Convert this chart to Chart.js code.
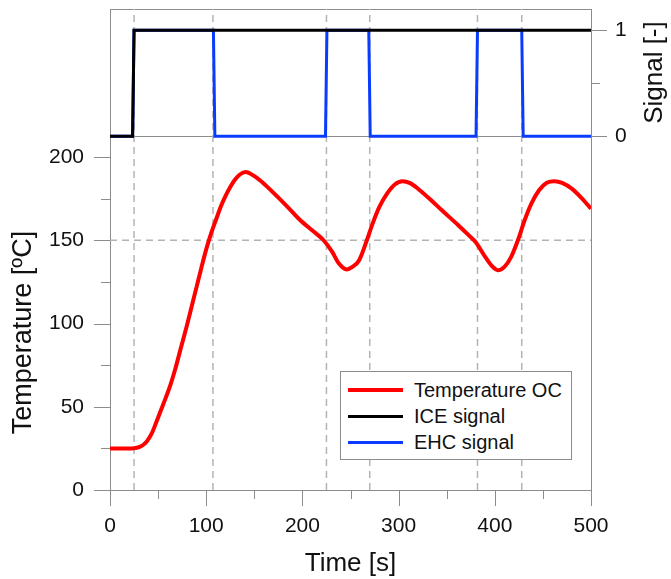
<!DOCTYPE html>
<html lang="en">
<head>
<meta charset="UTF-8">
<title>Temperature OC with ICE / EHC signals</title>
<style>
    body {
        margin: 0;
        background: #fff;
        font-family: 'Liberation Sans', Arial, sans-serif;
    }
    #wrap {
        position: relative;
        width: 671px;
        height: 579px;
    }
    #legend {
        position: absolute;
        left: 340px;
        top: 371px;
        width: 232px;
        height: 89px;
        box-sizing: border-box;
        border: 1px solid #8c8c8c;
        background: #fff;
        padding-top: 5px;
    }
    .row {
        display: flex;
        align-items: center;
        height: 26px;
        font-size: 20px;
        color: #111;
    }
    .swatch {
        width: 55px;
        margin-left: 7px;
        margin-right: 11px;
    }
</style>
</head>
<body>

<div id="wrap">
    <canvas id="chart" width="671" height="579"></canvas>
    <div id="legend"></div>
</div>

<script src="https://cdn.jsdelivr.net/npm/chart.js"></script>
<script>
    // temperature of the oxidation catalyst
    const tempTime  = [0, 22, 28, 33, 38, 43, 48, 53, 58, 63, 68, 74, 80, 85, 90, 95, 100, 105, 110, 115, 120, 125, 130, 135, 141,
                       150, 160, 170, 183, 197, 210, 222, 231, 238, 246, 252, 259, 267, 273, 280, 288, 296, 304, 312, 321, 333,
                       345, 362, 372, 380, 390, 397, 403, 410, 417, 424, 431, 438, 446, 454, 462, 470, 480, 490, 500];
    const tempValue = [25, 25, 25.4, 26.5, 29, 33.5, 40.5, 48, 55.5, 63.5, 73, 86, 99, 110.5, 122, 133.5, 144.5, 154, 162, 170, 176.5, 182, 186.5, 189.5, 191,
                       188.5, 184, 178.5, 171, 162.5, 156, 150, 143, 136, 132.5, 134, 138, 150, 160, 170, 178, 183.5, 185.5, 184.3, 180.5, 174.5,
                       168, 159, 153.5, 149, 140, 134.5, 132, 134, 140, 150, 162, 172, 180, 184.5, 185.5, 184.5, 181, 175.5, 169];

    // on/off signals
    const iceTime   = [0, 23.5, 25, 500];
    const iceSignal = [0, 0, 1, 1];
    const ehcTime   = [0, 23.5, 25, 107.5, 109, 224, 225.5, 269, 270.5, 380.5, 382, 428, 429.5, 500];
    const ehcSignal = [0, 0, 1, 1, 0, 0, 1, 1, 0, 0, 1, 1, 0, 0];

    // dashed reference lines
    const eventTimes = [25, 107, 225, 270, 382, 428];
    const refTemp = 150;

    // ticks
    const xTicks      = [0, 50, 100, 150, 200, 250, 300, 350, 400, 450, 500];
    const tempTicks   = [0, 25, 50, 75, 100, 125, 150, 175, 200];
    const signalTicks = [0, 0.5, 1];

    // axis ranges (signal panel sits on top of the temperature panel)
    const tempMax = 288.9;
    const signalMin = -3.34;
    const signalMax = 1.2;

    const axisGray = '#8c8c8c';
    const dashGray = '#b4b4b4';
    const fontFamily = "'Liberation Sans', Arial, sans-serif";

    const series = [
        { label: 'Temperature OC', color: '#ff0000', width: 4 },
        { label: 'ICE signal',     color: '#000000', width: 3 },
        { label: 'EHC signal',     color: '#0a3cff', width: 3 }
    ];

    const toPoints = (xs, ys) => xs.map((x, i) => ({ x: x, y: ys[i] }));

    const datasets = [
        {
            label: series[0].label,
            data: toPoints(tempTime, tempValue),
            yAxisID: 'yT',
            borderColor: series[0].color,
            borderWidth: series[0].width,
            cubicInterpolationMode: 'monotone',
            pointRadius: 0
        },
        {
            label: series[1].label,
            data: toPoints(iceTime, iceSignal),
            yAxisID: 'ys',
            borderColor: series[1].color,
            borderWidth: series[1].width,
            tension: 0,
            pointRadius: 0
        },
        {
            label: series[2].label,
            data: toPoints(ehcTime, ehcSignal),
            yAxisID: 'ys',
            borderColor: series[2].color,
            borderWidth: series[2].width,
            tension: 0,
            pointRadius: 0
        },
        {
            label: 'ref',
            data: [{ x: 0, y: refTemp }, { x: 500, y: refTemp }],
            yAxisID: 'yT',
            borderColor: dashGray,
            borderWidth: 1.5,
            borderDash: [7, 5],
            pointRadius: 0
        }
    ];

    eventTimes.forEach(t => {
        datasets.push({
            label: 'event',
            data: [{ x: t, y: signalMin }, { x: t, y: signalMax }],
            yAxisID: 'ys',
            borderColor: dashGray,
            borderWidth: 1.5,
            borderDash: [7, 5],
            pointRadius: 0
        });
    });

    // tick marks with long major / short minor, plus the two y titles
    const axisDecor = {
        id: 'axisDecor',
        afterDraw(chart) {
            const ctx = chart.ctx;
            const { x, yT, ys } = chart.scales;
            const crisp = v => Math.round(v) + 0.5;

            ctx.save();
            ctx.strokeStyle = axisGray;
            ctx.lineWidth = 1;
            ctx.beginPath();
            x.ticks.forEach(t => {
                const px = crisp(x.getPixelForValue(t.value));
                const len = t.value % 100 === 0 ? 16 : 9;
                ctx.moveTo(px, x.top);
                ctx.lineTo(px, x.top + len);
            });
            yT.ticks.forEach(t => {
                const py = crisp(yT.getPixelForValue(t.value));
                const len = t.value % 50 === 0 ? 16 : 9;
                ctx.moveTo(yT.right, py);
                ctx.lineTo(yT.right - len, py);
            });
            ys.ticks.forEach(t => {
                const py = crisp(ys.getPixelForValue(t.value));
                const len = t.value === 0.5 ? 9 : 16;
                ctx.moveTo(ys.left, py);
                ctx.lineTo(ys.left + len, py);
            });
            ctx.stroke();

            ctx.fillStyle = '#111';
            ctx.textAlign = 'center';
            ctx.textBaseline = 'middle';

            ctx.font = '27px ' + fontFamily;
            const tempMid = (yT.getPixelForValue(0) + yT.getPixelForValue(200)) / 2 + 9;
            ctx.save();
            ctx.translate(24, tempMid);
            ctx.rotate(-Math.PI / 2);
            ctx.fillText('Temperature [ºC]', 0, 0);
            ctx.restore();

            ctx.font = '26px ' + fontFamily;
            const sigMid = (ys.getPixelForValue(0) + ys.getPixelForValue(signalMax)) / 2;
            ctx.save();
            ctx.translate(655, sigMid);
            ctx.rotate(-Math.PI / 2);
            ctx.fillText('Signal [-]', 0, 0);
            ctx.restore();

            ctx.restore();
        }
    };

    const tickFont = { family: fontFamily, size: 21 };
    const noPad = s => { s.paddingTop = 0; s.paddingBottom = 0; s.paddingLeft = 0; s.paddingRight = 0; };

    new Chart(document.getElementById('chart'), {
        type: 'line',
        data: { datasets: datasets },
        options: {
            responsive: false,
            animation: false,
            layout: { padding: 0 },
            plugins: {
                legend: { display: false },
                tooltip: { enabled: false }
            },
            scales: {
                x: {
                    type: 'linear',
                    position: 'bottom',
                    min: 0,
                    max: 500,
                    afterBuildTicks: s => { s.ticks = xTicks.map(v => ({ value: v })); },
                    afterFit: s => { s.height = 89; noPad(s); },
                    ticks: {
                        font: tickFont,
                        color: '#111',
                        padding: 8,
                        maxRotation: 0,
                        autoSkip: false,
                        callback: v => (v % 100 === 0 ? String(v) : '')
                    },
                    grid: { drawOnChartArea: false, tickLength: 16, tickColor: 'rgba(0,0,0,0)' },
                    border: { color: axisGray, width: 1 },
                    title: {
                        display: true,
                        text: 'Time [s]',
                        color: '#111',
                        font: { family: fontFamily, size: 26 },
                        padding: { top: 0, bottom: 0 }
                    }
                },
                xTop: {
                    type: 'linear',
                    position: 'top',
                    min: 0,
                    max: 500,
                    afterFit: s => { s.height = 9; noPad(s); },
                    ticks: { display: false },
                    grid: { display: false },
                    border: { color: axisGray, width: 1 }
                },
                yT: {
                    type: 'linear',
                    position: 'left',
                    min: 0,
                    max: tempMax,
                    afterBuildTicks: s => { s.ticks = tempTicks.map(v => ({ value: v })); },
                    afterFit: s => { s.width = 110; noPad(s); },
                    ticks: {
                        font: tickFont,
                        color: '#111',
                        padding: 10,
                        autoSkip: false,
                        callback: v => (v % 50 === 0 ? String(v) : '')
                    },
                    grid: { drawOnChartArea: false, tickLength: 16, tickColor: 'rgba(0,0,0,0)' },
                    border: { color: axisGray, width: 1 }
                },
                ys: {
                    type: 'linear',
                    position: 'right',
                    min: signalMin,
                    max: signalMax,
                    afterBuildTicks: s => { s.ticks = signalTicks.map(v => ({ value: v })); },
                    afterFit: s => { s.width = 80; noPad(s); },
                    ticks: {
                        font: tickFont,
                        color: '#111',
                        padding: 8,
                        autoSkip: false,
                        callback: v => (v === 0.5 ? '' : String(v))
                    },
                    grid: {
                        drawOnChartArea: true,
                        tickLength: 16,
                        tickColor: 'rgba(0,0,0,0)',
                        color: c => (c.tick && c.tick.value === 0 ? axisGray : 'rgba(0,0,0,0)')
                    },
                    border: { color: axisGray, width: 1 }
                }
            }
        },
        plugins: [axisDecor]
    });

    // legend box inside the temperature panel
    const legend = document.getElementById('legend');
    series.forEach(s => {
        const row = document.createElement('div');
        row.className = 'row';
        row.innerHTML = '<span class="swatch" style="height:' + s.width + 'px;background:' + s.color + '"></span>' + s.label;
        legend.appendChild(row);
    });
</script>

</body>
</html>
